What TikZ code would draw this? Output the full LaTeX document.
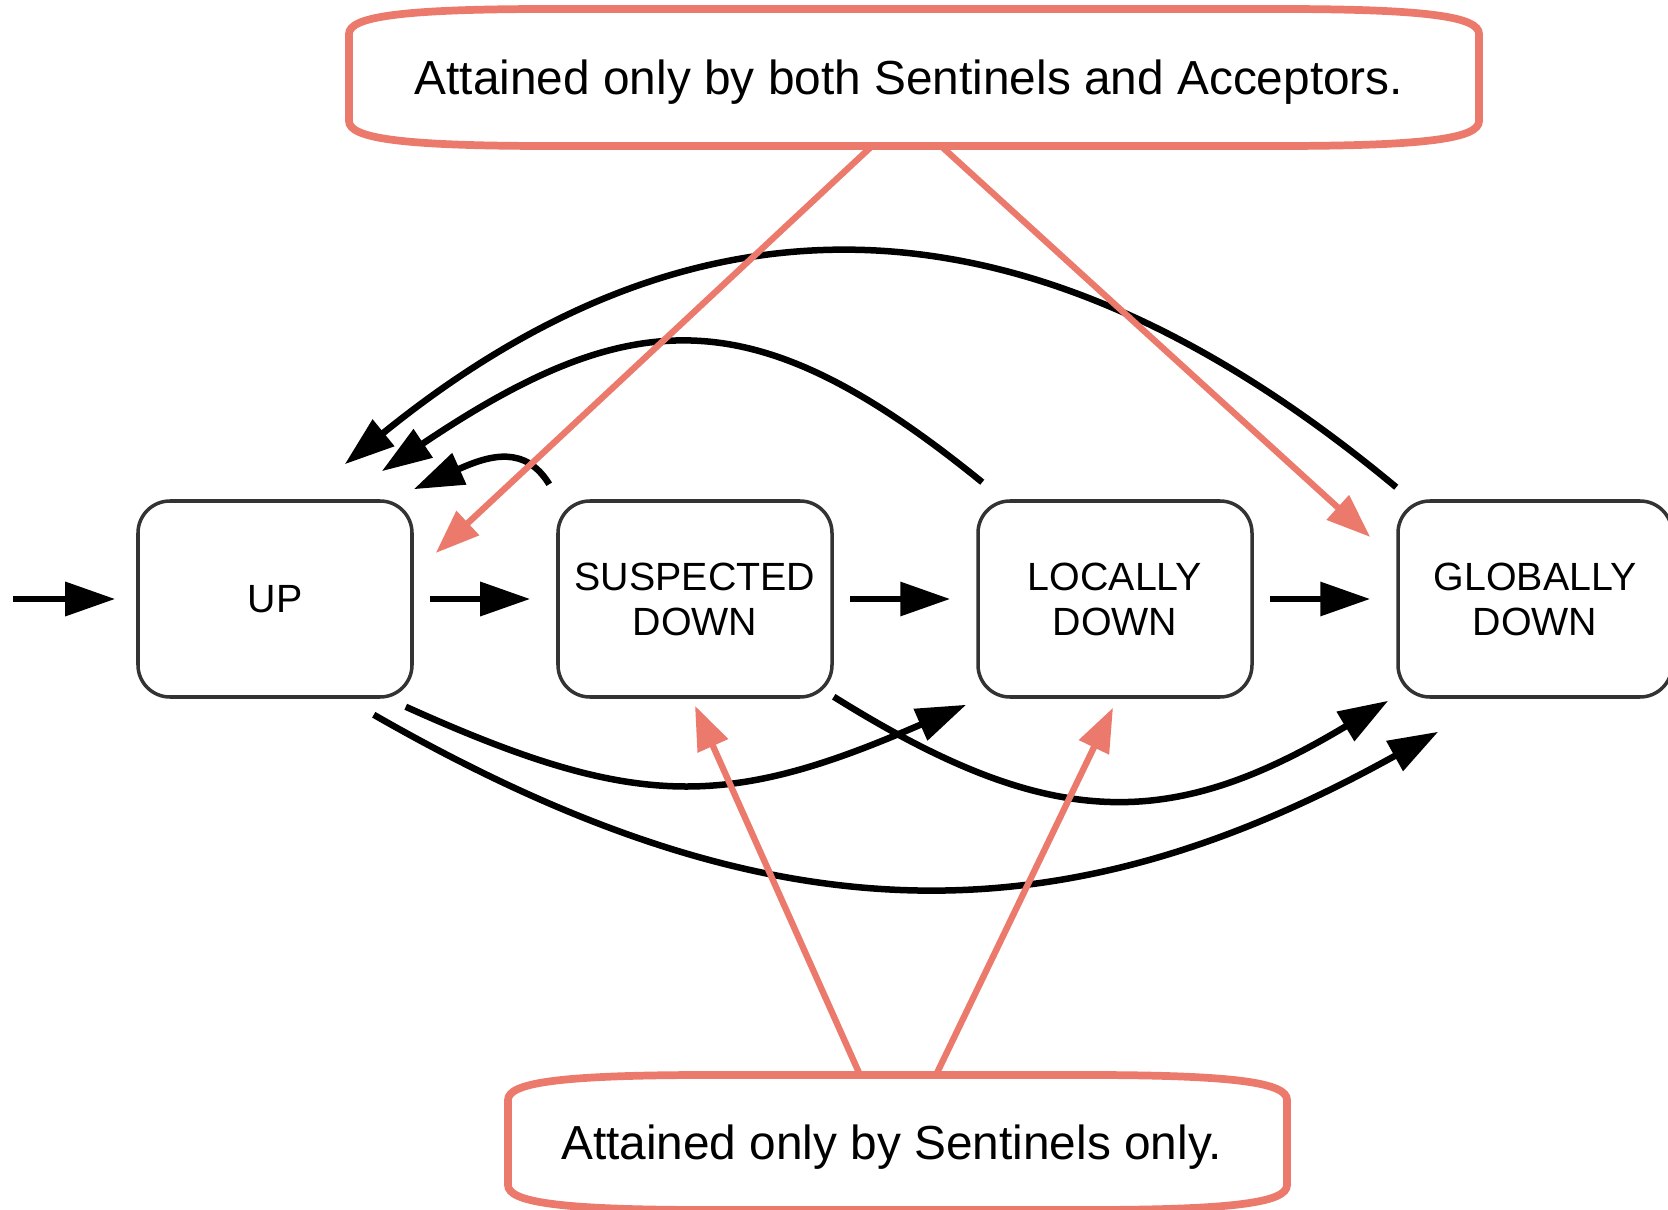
\documentclass[tikz,border=0pt]{standalone}
\usepackage{fontspec}
\setmainfont{Liberation Sans}
\usetikzlibrary{arrows.meta,calc}
\definecolor{salmon}{HTML}{EB7A6C}
\definecolor{boxgray}{HTML}{333333}

\begin{document}
\begin{tikzpicture}[state/.style={draw=boxgray, line width=1pt, rounded corners=0.32cm, minimum width=2.74cm, minimum height=1.96cm, align=center, font=\fontsize{11.2}{12.8}\selectfont},
  arr/.style={line width=1.85pt, -{Triangle[length=0.5cm,width=0.33cm]}},
  note/.style={salmon, line width=1.8pt, -{Triangle[length=0.44cm,width=0.32cm]}},
  callout/.style={inner sep=0pt, outer sep=0pt, font=\fontsize{13.6}{15}\selectfont}]
\useasboundingbox (0,0) rectangle (16.68,-12.10);

\foreach \i/\name/\lbl in {0/up/UP, 1/sus/{SUSPECTED\\DOWN}, 2/loc/{LOCALLY\\DOWN}, 3/glob/{GLOBALLY\\DOWN}}{
  \node[state] (\name) at (2.75+4.2*\i,-5.99) {\lbl};
}

\node[callout, minimum width=11.3cm, minimum height=1.37cm] (both) at (9.14,-0.775) {\hspace*{-1mm}\raisebox{-1.7mm}[0pt][0pt]{Attained only by both Sentinels and Acceptors.}};
\node[callout, minimum width=7.79cm, minimum height=1.35cm] (sent) at (8.975,-11.425) {\hspace*{-1.2mm}\raisebox{-1.7mm}[0pt][0pt]{Attained only by Sentinels only.}};
\foreach \c in {both, sent}{
  \draw[salmon, line width=2.2pt] let \p1 = (\c.north west), \p2 = (\c.south east) in
    (\x1,\y1-0.25cm) .. controls (\x1,\y1-0.08cm) and (\x1+0.5cm,\y1) .. (\x1+2cm,\y1)
    -- (\x2-2cm,\y1) .. controls (\x2-0.5cm,\y1) and (\x2,\y1-0.08cm) .. (\x2,\y1-0.25cm)
    -- (\x2,\y2+0.25cm) .. controls (\x2,\y2+0.08cm) and (\x2-0.5cm,\y2) .. (\x2-2cm,\y2)
    -- (\x1+2cm,\y2) .. controls (\x1+0.5cm,\y2) and (\x1,\y2+0.08cm) .. (\x1,\y2+0.25cm) -- cycle;
}

\coordinate (entry) at (0.13,-5.99);
\draw[arr, shorten >=0.21cm] (entry) -- (up);
\foreach \a/\b in {up/sus, sus/loc, loc/glob}
  \draw[arr, shorten <=0.16cm, shorten >=0.26cm] (\a) -- (\b);

% back to UP
\draw[arr] ([shift={(0,0.12)}]glob.north west) .. controls (10.27,-1.80) and (6.95,-1.80) .. ([shift={(-0.69,0.35)}]up.north east);
\draw[arr] ([shift={(0.06,0.17)}]loc.north west) .. controls (7.58,-3.0) and (6.36,-3.0) .. ([shift={(-0.32,0.28)}]up.north east);
\draw[arr] ([shift={(-0.07,0.15)}]sus.north west) .. controls (5.25,-4.45) and (4.9,-4.55) .. ([shift={(0,0.10)}]up.north east);

% skipping ahead
\draw[arr] ([shift={(-0.08,-0.08)}]up.south east) .. controls (6.35,-8.1) and (7.25,-8.1) .. ([shift={(-0.10,-0.06)}]loc.south west);
\draw[arr] ([shift={(0,0.02)}]sus.south east) .. controls (10.5,-8.32) and (11.7,-8.32) .. ([shift={(-0.08,-0.02)}]glob.south west);
\draw[arr] ([shift={(-0.40,-0.16)}]up.south east) .. controls (7.7,-9.42) and (10.6,-9.42) .. ([shift={(0.42,-0.33)}]glob.south west);

\draw[note] ([xshift=-0.42cm]both.south) -- ([shift={(0.22,0.46)}]up.east);
\draw[note] ([xshift=0.27cm]both.south) -- ([shift={(-0.26,0.62)}]glob.west);
\draw[note] ([xshift=-0.375cm]sent.north) -- ([yshift=-0.07cm]sus.south);
\draw[note] ([xshift=0.385cm]sent.north) -- ([shift={(-0.02,-0.09)}]loc.south);
\end{tikzpicture}
\end{document}
